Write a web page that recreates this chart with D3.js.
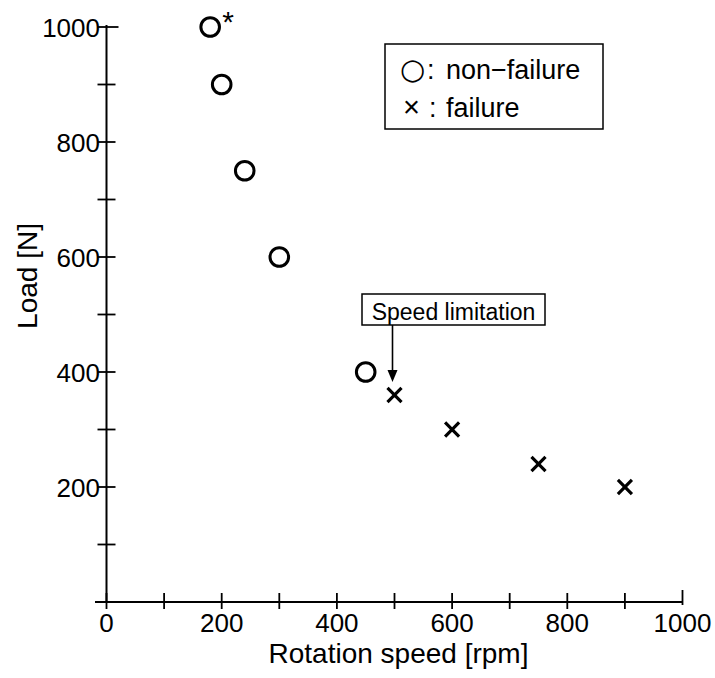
<!DOCTYPE html>
<html><head><meta charset="utf-8">
<script src="https://cdn.jsdelivr.net/npm/d3@7"></script>
<style>body{margin:0;background:#fff} svg{display:block}</style>
</head><body>
<svg id="c" width="715" height="678"></svg>
<script>
const nonFailureSpeed = [180, 200, 240, 300, 450];
const nonFailureLoad = [1000, 900, 750, 600, 400];
const failureSpeed = [500, 600, 750, 900];
const failureLoad = [360, 300, 240, 200];
const xMajorTicks = [0, 200, 400, 600, 800, 1000];
const xMinorTicks = [100, 300, 500, 700, 900];
const yMajorTicks = [0, 200, 400, 600, 800, 1000];
const yMinorTicks = [100, 300, 500, 700, 900];
const legendSymbols = ["○", "×"];
const legendLabels = ["non−failure", "failure"];
const xTitle = "Rotation speed [rpm]";
const yTitle = "Load [N]";
const annotationText = "Speed limitation";

const FONT = "'Liberation Sans', Arial, Helvetica, sans-serif";
const svg = d3.select("#c");
const x = d3.scaleLinear().domain([0, 1000]).range([106.5, 682.5]);
const y = d3.scaleLinear().domain([0, 1000]).range([602, 27]);

const g = svg.append("g").attr("stroke", "#000").attr("fill", "none");

// axis lines
g.append("line").attr("x1", 95).attr("x2", x(1000)).attr("y1", y(0)).attr("y2", y(0)).attr("stroke-width", 2);
g.append("line").attr("x1", x(0)).attr("x2", x(0)).attr("y1", y(0) + 1).attr("y2", y(1000) - 2).attr("stroke-width", 2);

// x ticks
g.selectAll(".xt").data(xMajorTicks.concat(xMinorTicks)).join("line")
  .attr("x1", d => x(d)).attr("x2", d => x(d))
  .attr("y1", d => d === 1000 ? y(0) - 12 : y(0) - 9)
  .attr("y2", d => d === 1000 ? y(0) + 3 : y(0) + 7)
  .attr("stroke-width", 1.8);
// y ticks
g.selectAll(".yt").data(yMajorTicks.concat(yMinorTicks)).join("line")
  .attr("y1", d => y(d)).attr("y2", d => y(d))
  .attr("x1", x(0) - 9)
  .attr("x2", d => d === 1000 ? x(0) + 12 : x(0) + 9)
  .attr("stroke-width", 1.8);

// tick labels
svg.selectAll(".xl").data(xMajorTicks).join("text")
  .attr("x", d => x(d)).attr("y", 632)
  .attr("text-anchor", "middle")
  .attr("font-family", FONT).attr("font-size", 26)
  .text(d => d);
svg.selectAll(".yl").data(yMajorTicks.filter(d => d > 0)).join("text")
  .attr("x", 100).attr("y", d => y(d) + 9.5)
  .attr("text-anchor", "end")
  .attr("font-family", FONT).attr("font-size", 26)
  .text(d => d);

// axis titles
svg.append("text").attr("x", (x(0) + x(1000)) / 2 + 4).attr("y", 663)
  .attr("text-anchor", "middle").attr("font-family", FONT).attr("font-size", 28)
  .text(xTitle);
svg.append("text").attr("transform", "translate(37,276) rotate(-90)")
  .attr("text-anchor", "middle").attr("font-family", FONT).attr("font-size", 28)
  .text(yTitle);

// markers
const nonFailure = nonFailureSpeed.map((s, i) => ({ s, l: nonFailureLoad[i] }));
const failure = failureSpeed.map((s, i) => ({ s, l: failureLoad[i] }));
svg.selectAll(".nf").data(nonFailure).join("circle")
  .attr("cx", d => x(d.s)).attr("cy", d => y(d.l)).attr("r", 9.3)
  .attr("fill", "none").attr("stroke", "#000").attr("stroke-width", 3);
svg.selectAll(".f").data(failure).join("path")
  .attr("transform", d => `translate(${x(d.s)},${y(d.l)})`)
  .attr("d", d3.symbol(d3.symbolX, 130))
  .attr("fill", "none").attr("stroke", "#000").attr("stroke-width", 3.2);

// asterisk on first point
svg.append("text").attr("x", x(nonFailureSpeed[0]) + 12).attr("y", y(nonFailureLoad[0]) + 5)
  .attr("font-family", FONT).attr("font-size", 30).text("*");

// legend
svg.append("rect").attr("x", 385).attr("y", 44).attr("width", 218).attr("height", 85)
  .attr("fill", "#fff").attr("stroke", "#000").attr("stroke-width", 1.5);
const rows = [79, 117];
legendLabels.forEach((lab, i) => {
  const t = svg.append("text").attr("y", rows[i]).attr("font-family", FONT).attr("font-size", 27);
  t.append("tspan").attr("x", i === 0 ? 400 : 403)
    .attr("font-family", i === 0 ? "'DejaVu Sans', sans-serif" : FONT)
    .attr("font-size", i === 0 ? 29 : 29).text(legendSymbols[i]);
  t.append("tspan").attr("x", i === 0 ? 427 : 429).text(":");
  t.append("tspan").attr("x", 446).text(lab);
});

// annotation
const ax = x(failureSpeed[0]) - 2, ay = y(failureLoad[0]) - 13;
svg.append("line").attr("x1", ax).attr("x2", ax).attr("y1", 325).attr("y2", ay - 11)
  .attr("stroke", "#000").attr("stroke-width", 1.6);
svg.append("path").attr("d", `M${ax - 5},${ay - 12}L${ax + 5},${ay - 12}L${ax},${ay}Z`).attr("fill", "#000");
svg.append("rect").attr("x", ax - 30.5).attr("y", 294).attr("width", 183).attr("height", 31)
  .attr("fill", "#fff").attr("stroke", "#000").attr("stroke-width", 1.5);
svg.append("text").attr("x", ax - 30.5 + 91.5).attr("y", 320).attr("text-anchor", "middle")
  .attr("font-family", FONT).attr("font-size", 23).text(annotationText);
</script>
</body></html>
